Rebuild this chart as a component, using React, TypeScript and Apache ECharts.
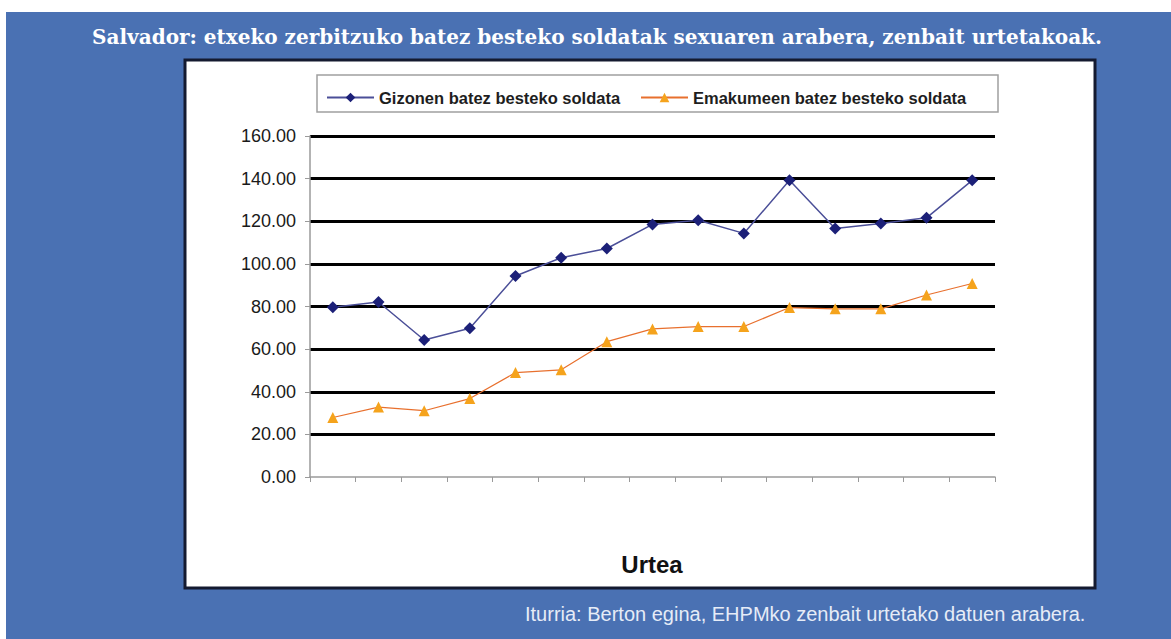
import React, { useEffect, useRef } from "react";
import * as echarts from "echarts";

const categories = ["1", "2", "3", "4", "5", "6", "7", "8", "9", "10", "11", "12", "13", "14", "15"];
const menValues = [79.6, 82.1, 64.3, 69.8, 94.3, 102.9, 107.2, 118.5, 120.5, 114.3, 139.2, 116.6, 119.0, 121.6, 139.2];
const womenValues = [27.9, 32.8, 31.1, 36.8, 49.0, 50.3, 63.5, 69.5, 70.6, 70.6, 79.5, 78.9, 78.9, 85.4, 90.8];
const menName = "Gizonen batez besteko soldata";
const womenName = "Emakumeen batez besteko soldata";
const titleText = "Salvador: etxeko zerbitzuko batez besteko soldatak sexuaren arabera, zenbait urtetakoak.";
const xAxisTitle = "Urtea";
const sourceText = "Iturria: Berton egina, EHPMko zenbait urtetako datuen arabera.";

export default function App() {
  const ref = useRef<HTMLDivElement>(null);
  useEffect(() => {
    if (!ref.current) return;
    const chart = echarts.init(ref.current, null, { renderer: "svg" });
    const legendText = { fontFamily: "Arial, 'Liberation Sans'", fontSize: 16.5, fontWeight: "bold" as const, color: "#1e1e1e" };
    chart.setOption({
      animation: false,
      backgroundColor: "#ffffff",
      graphic: [
        { type: "rect", z: -10, shape: { x: 6, y: 12, width: 1165, height: 627 }, style: { fill: "#4a71b3" } },
        { type: "rect", z: -9, shape: { x: 185, y: 60, width: 910, height: 528 }, style: { fill: "#ffffff", stroke: "#141a30", lineWidth: 3 } },
        { type: "rect", z: -8, shape: { x: 317, y: 75, width: 681, height: 37 }, style: { fill: "#ffffff", stroke: "#a0a0a0", lineWidth: 1.5 } },
        { type: "text", x: 597, y: 37, style: { text: titleText, fill: "#ffffff", font: "bold 20px 'DejaVu Serif'", textAlign: "center", textVerticalAlign: "middle" } },
        { type: "text", x: 652, y: 564, style: { text: xAxisTitle, fill: "#111111", font: "bold 24px Arial, 'Liberation Sans'", textAlign: "center", textVerticalAlign: "middle" } },
        { type: "text", x: 525, y: 614, style: { text: sourceText, fill: "#e6ecf7", font: "20px Arial, 'Liberation Sans'", textAlign: "left", textVerticalAlign: "middle" } },
      ],
      legend: [
        { data: [menName], left: 321, top: 84, itemWidth: 47, itemHeight: 12, itemGap: 0, textStyle: legendText },
        { data: [womenName], left: 635, top: 84, itemWidth: 47, itemHeight: 12, itemGap: 0, textStyle: legendText },
      ],
      grid: { left: 310, right: 176, top: 136, bottom: 162, containLabel: false },
      xAxis: {
        type: "category",
        data: categories,
        boundaryGap: true,
        axisLine: { lineStyle: { color: "#9a9a9a", width: 1.5 } },
        axisTick: { show: true, length: 5, lineStyle: { color: "#9a9a9a" } },
        axisLabel: { show: false },
        splitLine: { show: false },
      },
      yAxis: {
        type: "value",
        min: 0,
        max: 160,
        interval: 20,
        axisLine: { show: true, lineStyle: { color: "#9a9a9a", width: 1.5 } },
        axisTick: { show: true, length: 5, lineStyle: { color: "#9a9a9a" } },
        axisLabel: { margin: 14, fontSize: 18, color: "#1a1a1a", fontFamily: "Arial, 'Liberation Sans'", formatter: (v: number) => v.toFixed(2) },
        splitLine: { show: true, showMinLine: false, lineStyle: { color: "#000000", width: 2.8 } },
      },
      series: [
        {
          name: menName,
          type: "line",
          data: menValues,
          symbol: "diamond",
          symbolSize: 12,
          itemStyle: { color: "#1c2078" },
          lineStyle: { color: "#4b4f98", width: 1.5 },
          z: 3,
        },
        {
          name: womenName,
          type: "line",
          data: womenValues,
          symbol: "triangle",
          symbolSize: 11,
          itemStyle: { color: "#f5a31c" },
          lineStyle: { color: "#e8702e", width: 1.2 },
          z: 2,
        },
      ],
    });
    return () => chart.dispose();
  }, []);
  return <div ref={ref} style={{ position: "fixed", left: 0, top: 0, width: 1171, height: 639 }} />;
}
